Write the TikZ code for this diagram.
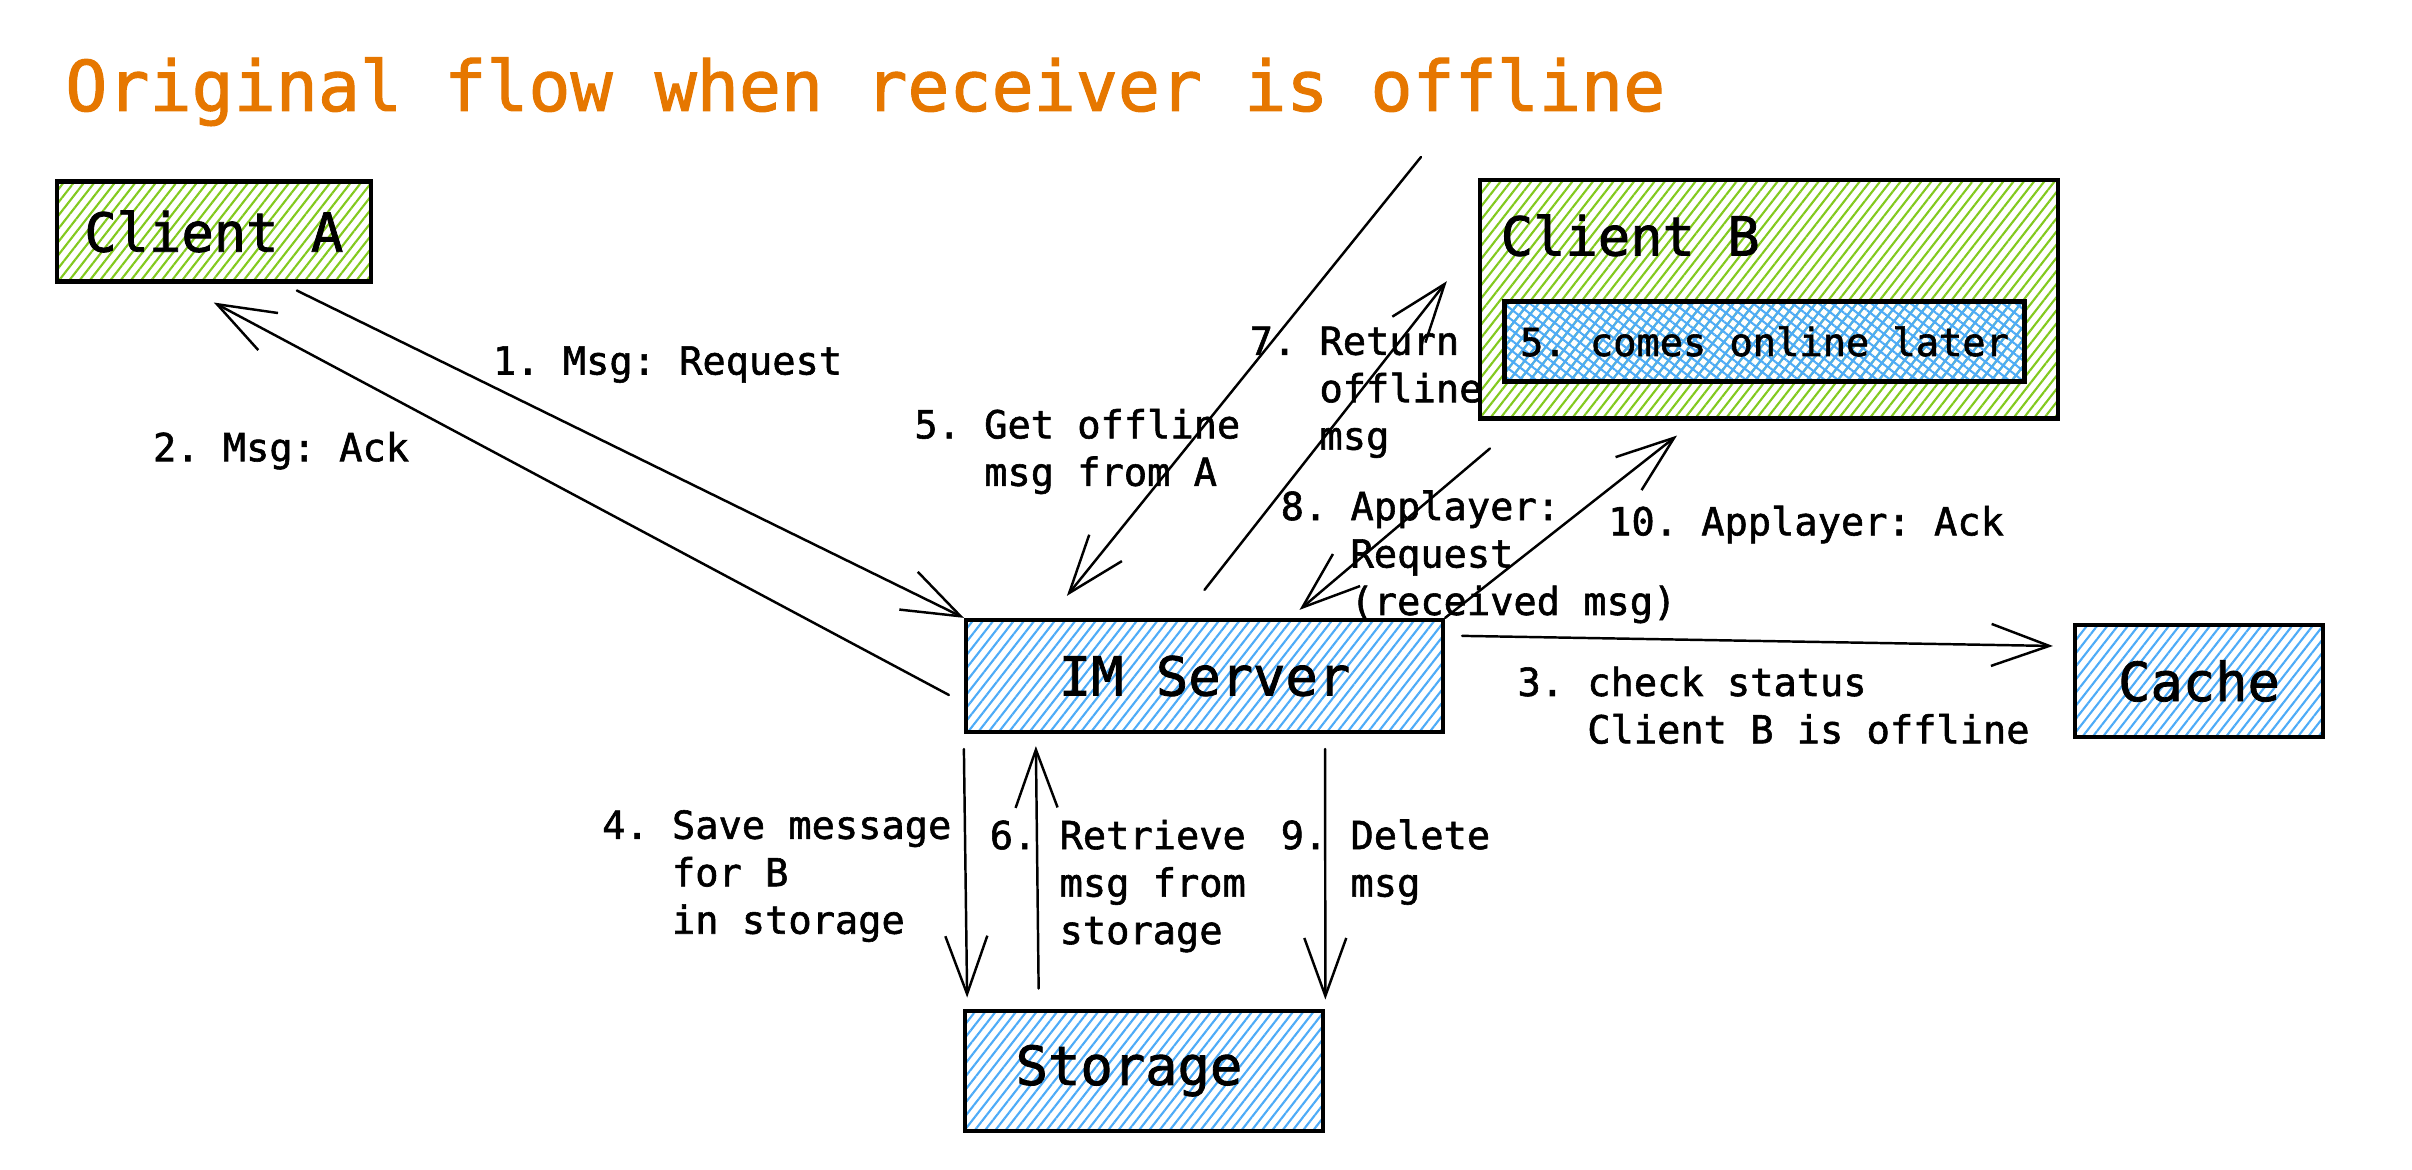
\documentclass[tikz,border=0pt]{standalone}
\usepackage{fontspec}
\setmainfont[FakeBold=1.5]{DejaVu Sans Mono}
\usetikzlibrary{shapes,arrows,arrows.meta,patterns.meta}

\definecolor{titleorange}{HTML}{E67700}
\definecolor{hatchgreen}{HTML}{82C91E}
\definecolor{hatchblue}{HTML}{4DABF7}

\frenchspacing
\begin{document}
\begin{tikzpicture}[>={Straight Barb[length=5.8mm,width=4.2mm]},
  boxfont/.style={font=\fontsize{15.3}{18}\selectfont},
  sysbox/.style={draw, line width=1.2pt, inner sep=0pt, boxfont},
  greenbox/.style={sysbox, pattern={Lines[angle=52,distance=2.3pt,line width=0.6pt]}, pattern color=hatchgreen},
  bluebox/.style={sysbox, pattern={Lines[angle=52,distance=2.3pt,line width=0.6pt]}, pattern color=hatchblue},
  msg/.style={align=left, anchor=west, inner sep=0pt, font=\fontsize{11}{13.5}\selectfont},
  msgarrow/.style={->, line width=0.7pt, line cap=round, line join=round}]

%\draw[help lines, ultra thin] (0,0) grid (24,11);
\useasboundingbox (0,0) rectangle (24.12,11.70);

%title
\node [anchor=base west, inner sep=0pt, text=titleorange, font=\fontsize{19.9}{24}\selectfont] (title) at (0.646,10.59) {Original flow when receiver is offline};

%boxes
\node [greenbox, minimum width=3.14cm, minimum height=1cm] (clientA) at (2.138,9.385) {Client A};
\node [greenbox, minimum width=5.78cm, minimum height=2.385cm] (clientB) at (17.69,8.708) {};
\node [boxfont, anchor=west, inner sep=0pt] (clientBname) at (15.0,9.346) {Client B};
\node [bluebox, minimum width=5.2cm, minimum height=0.8cm, font=\fontsize{11}{13.5}\selectfont,
       preaction={pattern={Lines[angle=-38,distance=2.3pt,line width=0.6pt]}, pattern color=hatchblue}] (online) at (17.645,8.285) {5. comes online later};
\node [bluebox, minimum width=4.77cm, minimum height=1.12cm] (server) at (12.045,4.94) {IM Server};
\node [bluebox, minimum width=2.48cm, minimum height=1.12cm] (cache) at (21.99,4.89) {Cache};
\node [bluebox, minimum width=3.585cm, minimum height=1.2cm] (storage) at (11.44,0.993) {\hspace{-3mm}Storage};

%lines
\coordinate (fetchstart) at (14.21,10.13);
\draw [msgarrow] ([xshift=-7.5mm,yshift=-0.8mm]clientA.south east) -- (server.north west);
\draw [msgarrow] ([xshift=-1.5mm,yshift=-1.9mm]server.west) -- ([yshift=-2mm]clientA.south);
\draw [msgarrow] ([xshift=1.7mm,yshift=-1.8mm]server.north east) -- ([xshift=-2mm,yshift=3.5mm]cache.west);
\draw [msgarrow] ([yshift=-1.5mm]server.south west) -- ([xshift=0.45mm,yshift=1.1mm]storage.north west);
\draw [msgarrow] (fetchstart) -- ([xshift=10.3mm,yshift=2.2mm]server.north west);
\draw [msgarrow] ([xshift=7.6mm,yshift=2mm]storage.north west) -- ([xshift=7.2mm,yshift=-1.2mm]server.south west);
\draw [msgarrow] ([yshift=2.8mm]server.north) -- ([xshift=-3.1mm,yshift=1.8mm]clientB.west);
\draw [msgarrow] ([xshift=1.2mm,yshift=-2.8mm]clientB.south west) -- ([xshift=9.5mm,yshift=0.8mm]server.north);
\draw [msgarrow] ([xshift=-12mm,yshift=-1.5mm]server.south east) -- ([yshift=0.9mm]storage.north east);
\draw [msgarrow] (server.north east) -- ([xshift=-9.2mm,yshift=-1.5mm]clientB.south);

%labels
\node [msg] (l1) at (4.923,8.054) {1. Msg: Request};
\node [msg] (l2) at (1.523,7.193) {2. Msg: Ack};
\node [msg] (l3) at (15.168,4.647) {3. check status\\\hphantom{3. }Client B is offline};
\node [msg] (l4) at (6.015,2.939) {4. Save message\\\hphantom{4. }for B\\\hphantom{4. }in storage};
\node [msg] (l5) at (9.137,7.185) {5. Get offline\\\hphantom{5. }msg from A};
\node [msg] (l6) at (9.891,2.839) {6. Retrieve\\\hphantom{6. }msg from\\\hphantom{6. }storage};
\node [msg] (l7) at (12.49,7.777) {7. Return\\\hphantom{7. }offline\\\hphantom{7. }msg};
\node [msg] (l8) at (12.80,6.131) {8. Applayer:\\\hphantom{8. }Request\\\hphantom{8. }(received msg)};
\node [msg] (l9) at (12.80,3.078) {9. Delete\\\hphantom{9. }msg};
\node [msg] (l10) at (16.075,6.454) {10. Applayer: Ack};

\end{tikzpicture}
\end{document}
